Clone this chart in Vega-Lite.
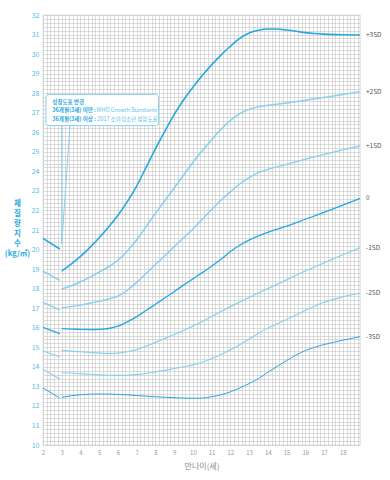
{
  "$schema": "https://vega.github.io/schema/vega-lite/v6.json",
  "width": 317,
  "height": 430,
  "autosize": {"type": "none"},
  "padding": {"left": 43, "top": 15, "right": 30, "bottom": 35},
  "background": "white",
  "config": {"view": {"stroke": "#c4c4c4", "strokeWidth": 0.6}, "font": "Noto Sans CJK KR"},
  "datasets": {
    "curves": [
      {"sd":"+3SD","seg":"W","age":2,"bmi":20.57},{"sd":"+3SD","seg":"W","age":2.9,"bmi":20.03},
      {"sd":"+2SD","seg":"W","age":2,"bmi":18.9},{"sd":"+2SD","seg":"W","age":2.9,"bmi":18.42},
      {"sd":"+1SD","seg":"W","age":2,"bmi":17.3},{"sd":"+1SD","seg":"W","age":2.9,"bmi":16.91},
      {"sd":"0","seg":"W","age":2,"bmi":16.02},{"sd":"0","seg":"W","age":2.9,"bmi":15.7},
      {"sd":"-1SD","seg":"W","age":2,"bmi":14.81},{"sd":"-1SD","seg":"W","age":2.9,"bmi":14.5},
      {"sd":"-2SD","seg":"W","age":2,"bmi":13.87},{"sd":"-2SD","seg":"W","age":2.9,"bmi":13.38},
      {"sd":"-3SD","seg":"W","age":2,"bmi":12.92},{"sd":"-3SD","seg":"W","age":2.9,"bmi":12.4},

      {"sd":"+3SD","seg":"K","age":3,"bmi":18.9},{"sd":"+3SD","seg":"K","age":3.5,"bmi":19.25},{"sd":"+3SD","seg":"K","age":4,"bmi":19.65},{"sd":"+3SD","seg":"K","age":4.5,"bmi":20.1},{"sd":"+3SD","seg":"K","age":5,"bmi":20.6},{"sd":"+3SD","seg":"K","age":5.5,"bmi":21.15},{"sd":"+3SD","seg":"K","age":6,"bmi":21.75},{"sd":"+3SD","seg":"K","age":6.5,"bmi":22.45},{"sd":"+3SD","seg":"K","age":7,"bmi":23.25},{"sd":"+3SD","seg":"K","age":7.5,"bmi":24.2},{"sd":"+3SD","seg":"K","age":8,"bmi":25.15},{"sd":"+3SD","seg":"K","age":8.5,"bmi":26.05},{"sd":"+3SD","seg":"K","age":9,"bmi":26.9},{"sd":"+3SD","seg":"K","age":9.5,"bmi":27.65},{"sd":"+3SD","seg":"K","age":10,"bmi":28.3},{"sd":"+3SD","seg":"K","age":10.5,"bmi":28.9},{"sd":"+3SD","seg":"K","age":11,"bmi":29.45},{"sd":"+3SD","seg":"K","age":11.5,"bmi":29.95},{"sd":"+3SD","seg":"K","age":12,"bmi":30.4},{"sd":"+3SD","seg":"K","age":12.5,"bmi":30.8},{"sd":"+3SD","seg":"K","age":13,"bmi":31.08},{"sd":"+3SD","seg":"K","age":13.5,"bmi":31.22},{"sd":"+3SD","seg":"K","age":14,"bmi":31.28},{"sd":"+3SD","seg":"K","age":14.5,"bmi":31.28},{"sd":"+3SD","seg":"K","age":15,"bmi":31.23},{"sd":"+3SD","seg":"K","age":15.5,"bmi":31.17},{"sd":"+3SD","seg":"K","age":16,"bmi":31.1},{"sd":"+3SD","seg":"K","age":16.5,"bmi":31.05},{"sd":"+3SD","seg":"K","age":17,"bmi":31.02},{"sd":"+3SD","seg":"K","age":18,"bmi":30.99},{"sd":"+3SD","seg":"K","age":18.92,"bmi":30.98},

      {"sd":"+2SD","seg":"K","age":3,"bmi":17.98},{"sd":"+2SD","seg":"K","age":3.5,"bmi":18.15},{"sd":"+2SD","seg":"K","age":4,"bmi":18.35},{"sd":"+2SD","seg":"K","age":4.5,"bmi":18.58},{"sd":"+2SD","seg":"K","age":5,"bmi":18.85},{"sd":"+2SD","seg":"K","age":5.5,"bmi":19.12},{"sd":"+2SD","seg":"K","age":6,"bmi":19.45},{"sd":"+2SD","seg":"K","age":6.5,"bmi":19.92},{"sd":"+2SD","seg":"K","age":7,"bmi":20.5},{"sd":"+2SD","seg":"K","age":7.5,"bmi":21.17},{"sd":"+2SD","seg":"K","age":8,"bmi":21.85},{"sd":"+2SD","seg":"K","age":8.5,"bmi":22.5},{"sd":"+2SD","seg":"K","age":9,"bmi":23.15},{"sd":"+2SD","seg":"K","age":9.5,"bmi":23.8},{"sd":"+2SD","seg":"K","age":10,"bmi":24.45},{"sd":"+2SD","seg":"K","age":10.5,"bmi":25.05},{"sd":"+2SD","seg":"K","age":11,"bmi":25.62},{"sd":"+2SD","seg":"K","age":11.5,"bmi":26.15},{"sd":"+2SD","seg":"K","age":12,"bmi":26.6},{"sd":"+2SD","seg":"K","age":12.5,"bmi":26.95},{"sd":"+2SD","seg":"K","age":13,"bmi":27.17},{"sd":"+2SD","seg":"K","age":13.5,"bmi":27.3},{"sd":"+2SD","seg":"K","age":14,"bmi":27.38},{"sd":"+2SD","seg":"K","age":14.5,"bmi":27.44},{"sd":"+2SD","seg":"K","age":15,"bmi":27.5},{"sd":"+2SD","seg":"K","age":16,"bmi":27.64},{"sd":"+2SD","seg":"K","age":17,"bmi":27.78},{"sd":"+2SD","seg":"K","age":18,"bmi":27.93},{"sd":"+2SD","seg":"K","age":18.92,"bmi":28.08},

      {"sd":"+1SD","seg":"K","age":3,"bmi":17.02},{"sd":"+1SD","seg":"K","age":3.5,"bmi":17.08},{"sd":"+1SD","seg":"K","age":4,"bmi":17.16},{"sd":"+1SD","seg":"K","age":4.5,"bmi":17.25},{"sd":"+1SD","seg":"K","age":5,"bmi":17.35},{"sd":"+1SD","seg":"K","age":5.5,"bmi":17.47},{"sd":"+1SD","seg":"K","age":6,"bmi":17.62},{"sd":"+1SD","seg":"K","age":6.5,"bmi":17.92},{"sd":"+1SD","seg":"K","age":7,"bmi":18.32},{"sd":"+1SD","seg":"K","age":7.5,"bmi":18.77},{"sd":"+1SD","seg":"K","age":8,"bmi":19.23},{"sd":"+1SD","seg":"K","age":8.5,"bmi":19.68},{"sd":"+1SD","seg":"K","age":9,"bmi":20.14},{"sd":"+1SD","seg":"K","age":9.5,"bmi":20.6},{"sd":"+1SD","seg":"K","age":10,"bmi":21.05},{"sd":"+1SD","seg":"K","age":10.5,"bmi":21.55},{"sd":"+1SD","seg":"K","age":11,"bmi":22.05},{"sd":"+1SD","seg":"K","age":11.5,"bmi":22.52},{"sd":"+1SD","seg":"K","age":12,"bmi":22.95},{"sd":"+1SD","seg":"K","age":12.5,"bmi":23.35},{"sd":"+1SD","seg":"K","age":13,"bmi":23.68},{"sd":"+1SD","seg":"K","age":13.5,"bmi":23.93},{"sd":"+1SD","seg":"K","age":14,"bmi":24.1},{"sd":"+1SD","seg":"K","age":14.5,"bmi":24.23},{"sd":"+1SD","seg":"K","age":15,"bmi":24.36},{"sd":"+1SD","seg":"K","age":16,"bmi":24.62},{"sd":"+1SD","seg":"K","age":17,"bmi":24.87},{"sd":"+1SD","seg":"K","age":18,"bmi":25.1},{"sd":"+1SD","seg":"K","age":18.92,"bmi":25.3},

      {"sd":"0","seg":"K","age":3,"bmi":15.95},{"sd":"0","seg":"K","age":3.5,"bmi":15.93},{"sd":"0","seg":"K","age":4,"bmi":15.92},{"sd":"0","seg":"K","age":4.5,"bmi":15.91},{"sd":"0","seg":"K","age":5,"bmi":15.92},{"sd":"0","seg":"K","age":5.5,"bmi":15.96},{"sd":"0","seg":"K","age":6,"bmi":16.08},{"sd":"0","seg":"K","age":6.5,"bmi":16.3},{"sd":"0","seg":"K","age":7,"bmi":16.57},{"sd":"0","seg":"K","age":7.5,"bmi":16.88},{"sd":"0","seg":"K","age":8,"bmi":17.2},{"sd":"0","seg":"K","age":8.5,"bmi":17.52},{"sd":"0","seg":"K","age":9,"bmi":17.85},{"sd":"0","seg":"K","age":9.5,"bmi":18.18},{"sd":"0","seg":"K","age":10,"bmi":18.5},{"sd":"0","seg":"K","age":10.5,"bmi":18.82},{"sd":"0","seg":"K","age":11,"bmi":19.15},{"sd":"0","seg":"K","age":11.5,"bmi":19.5},{"sd":"0","seg":"K","age":12,"bmi":19.9},{"sd":"0","seg":"K","age":12.5,"bmi":20.22},{"sd":"0","seg":"K","age":13,"bmi":20.48},{"sd":"0","seg":"K","age":13.5,"bmi":20.7},{"sd":"0","seg":"K","age":14,"bmi":20.88},{"sd":"0","seg":"K","age":15,"bmi":21.2},{"sd":"0","seg":"K","age":16,"bmi":21.55},{"sd":"0","seg":"K","age":17,"bmi":21.9},{"sd":"0","seg":"K","age":18,"bmi":22.27},{"sd":"0","seg":"K","age":18.92,"bmi":22.62},

      {"sd":"-1SD","seg":"K","age":3,"bmi":14.84},{"sd":"-1SD","seg":"K","age":3.5,"bmi":14.8},{"sd":"-1SD","seg":"K","age":4,"bmi":14.77},{"sd":"-1SD","seg":"K","age":4.5,"bmi":14.74},{"sd":"-1SD","seg":"K","age":5,"bmi":14.71},{"sd":"-1SD","seg":"K","age":5.5,"bmi":14.69},{"sd":"-1SD","seg":"K","age":6,"bmi":14.7},{"sd":"-1SD","seg":"K","age":6.5,"bmi":14.77},{"sd":"-1SD","seg":"K","age":7,"bmi":14.88},{"sd":"-1SD","seg":"K","age":7.5,"bmi":15.05},{"sd":"-1SD","seg":"K","age":8,"bmi":15.25},{"sd":"-1SD","seg":"K","age":8.5,"bmi":15.45},{"sd":"-1SD","seg":"K","age":9,"bmi":15.65},{"sd":"-1SD","seg":"K","age":9.5,"bmi":15.86},{"sd":"-1SD","seg":"K","age":10,"bmi":16.08},{"sd":"-1SD","seg":"K","age":10.5,"bmi":16.32},{"sd":"-1SD","seg":"K","age":11,"bmi":16.57},{"sd":"-1SD","seg":"K","age":11.5,"bmi":16.83},{"sd":"-1SD","seg":"K","age":12,"bmi":17.08},{"sd":"-1SD","seg":"K","age":12.5,"bmi":17.32},{"sd":"-1SD","seg":"K","age":13,"bmi":17.55},{"sd":"-1SD","seg":"K","age":14,"bmi":18.0},{"sd":"-1SD","seg":"K","age":15,"bmi":18.45},{"sd":"-1SD","seg":"K","age":16,"bmi":18.9},{"sd":"-1SD","seg":"K","age":17,"bmi":19.32},{"sd":"-1SD","seg":"K","age":18,"bmi":19.73},{"sd":"-1SD","seg":"K","age":18.92,"bmi":20.09},

      {"sd":"-2SD","seg":"K","age":3,"bmi":13.7},{"sd":"-2SD","seg":"K","age":3.5,"bmi":13.68},{"sd":"-2SD","seg":"K","age":4,"bmi":13.65},{"sd":"-2SD","seg":"K","age":4.5,"bmi":13.62},{"sd":"-2SD","seg":"K","age":5,"bmi":13.59},{"sd":"-2SD","seg":"K","age":5.5,"bmi":13.57},{"sd":"-2SD","seg":"K","age":6,"bmi":13.56},{"sd":"-2SD","seg":"K","age":6.5,"bmi":13.57},{"sd":"-2SD","seg":"K","age":7,"bmi":13.6},{"sd":"-2SD","seg":"K","age":7.5,"bmi":13.66},{"sd":"-2SD","seg":"K","age":8,"bmi":13.74},{"sd":"-2SD","seg":"K","age":8.5,"bmi":13.82},{"sd":"-2SD","seg":"K","age":9,"bmi":13.91},{"sd":"-2SD","seg":"K","age":9.5,"bmi":14.0},{"sd":"-2SD","seg":"K","age":10,"bmi":14.1},{"sd":"-2SD","seg":"K","age":10.5,"bmi":14.23},{"sd":"-2SD","seg":"K","age":11,"bmi":14.42},{"sd":"-2SD","seg":"K","age":11.5,"bmi":14.63},{"sd":"-2SD","seg":"K","age":12,"bmi":14.87},{"sd":"-2SD","seg":"K","age":12.5,"bmi":15.13},{"sd":"-2SD","seg":"K","age":13,"bmi":15.42},{"sd":"-2SD","seg":"K","age":13.5,"bmi":15.72},{"sd":"-2SD","seg":"K","age":14,"bmi":15.98},{"sd":"-2SD","seg":"K","age":14.5,"bmi":16.2},{"sd":"-2SD","seg":"K","age":15,"bmi":16.42},{"sd":"-2SD","seg":"K","age":16,"bmi":16.88},{"sd":"-2SD","seg":"K","age":17,"bmi":17.3},{"sd":"-2SD","seg":"K","age":17.5,"bmi":17.45},{"sd":"-2SD","seg":"K","age":18,"bmi":17.58},{"sd":"-2SD","seg":"K","age":18.92,"bmi":17.76},

      {"sd":"-3SD","seg":"K","age":3,"bmi":12.44},{"sd":"-3SD","seg":"K","age":3.5,"bmi":12.52},{"sd":"-3SD","seg":"K","age":4,"bmi":12.57},{"sd":"-3SD","seg":"K","age":4.5,"bmi":12.6},{"sd":"-3SD","seg":"K","age":5,"bmi":12.61},{"sd":"-3SD","seg":"K","age":6,"bmi":12.59},{"sd":"-3SD","seg":"K","age":7,"bmi":12.53},{"sd":"-3SD","seg":"K","age":8,"bmi":12.47},{"sd":"-3SD","seg":"K","age":9,"bmi":12.42},{"sd":"-3SD","seg":"K","age":10,"bmi":12.39},{"sd":"-3SD","seg":"K","age":10.5,"bmi":12.4},{"sd":"-3SD","seg":"K","age":11,"bmi":12.47},{"sd":"-3SD","seg":"K","age":11.5,"bmi":12.57},{"sd":"-3SD","seg":"K","age":12,"bmi":12.72},{"sd":"-3SD","seg":"K","age":12.5,"bmi":12.92},{"sd":"-3SD","seg":"K","age":13,"bmi":13.14},{"sd":"-3SD","seg":"K","age":13.5,"bmi":13.4},{"sd":"-3SD","seg":"K","age":14,"bmi":13.72},{"sd":"-3SD","seg":"K","age":14.5,"bmi":14.02},{"sd":"-3SD","seg":"K","age":15,"bmi":14.32},{"sd":"-3SD","seg":"K","age":15.5,"bmi":14.6},{"sd":"-3SD","seg":"K","age":16,"bmi":14.83},{"sd":"-3SD","seg":"K","age":16.5,"bmi":15.0},{"sd":"-3SD","seg":"K","age":17,"bmi":15.14},{"sd":"-3SD","seg":"K","age":17.5,"bmi":15.25},{"sd":"-3SD","seg":"K","age":18,"bmi":15.36},{"sd":"-3SD","seg":"K","age":18.92,"bmi":15.54}
    ],
    "box": [{"age": 2.16, "age2": 8.16, "bmi": 26.34, "bmi2": 27.94}],
    "tail": [
      {"o": 1, "age": 3.44, "bmi": 26.36},
      {"o": 2, "age": 3.0, "bmi": 20.28},
      {"o": 3, "age": 3.0, "bmi": 26.36}
    ],
    "noteBold": [
      {"age": 2.5, "bmi": 27.55, "t": "성장도표 변경"},
      {"age": 2.5, "bmi": 27.12, "t": "36개월(3세) 미만 :"},
      {"age": 2.5, "bmi": 26.7, "t": "36개월(3세) 이상 :"}
    ],
    "noteLight": [
      {"age": 4.86, "bmi": 27.12, "t": "WHO Growth Standards"},
      {"age": 4.9, "bmi": 26.7, "t": "2017 소아청소년 성장도표"}
    ]
  },
  "encoding": {
    "x": {
      "field": "age", "type": "quantitative",
      "scale": {"domain": [2, 18.92], "nice": false, "zero": false},
      "axis": {
        "tickCount": 85, "grid": true, "gridColor": "#c4c4c4", "gridWidth": 0.6,
        "ticks": false, "domain": false, "labelFlush": false, "labelOverlap": false,
        "labelExpr": "datum.value % 1 == 0 ? format(datum.value, 'd') : ''",
        "labelColor": "#9a9a9a", "labelFontSize": 6, "labelPadding": 4,
        "title": "만나이(세)", "titleColor": "#8a8a8a", "titleFontSize": 8,
        "titleFontWeight": "normal", "titlePadding": 7
      }
    },
    "y": {
      "field": "bmi", "type": "quantitative",
      "scale": {"domain": [10, 32], "nice": false, "zero": false},
      "axis": {
        "tickCount": 110, "grid": true, "gridColor": "#c4c4c4", "gridWidth": 0.6,
        "ticks": false, "domain": false, "labelFlush": false, "labelOverlap": false,
        "labelExpr": "datum.value % 1 == 0 ? format(datum.value, 'd') : ''",
        "labelColor": "#4fbde9", "labelFontSize": 7, "labelPadding": 4,
        "title": ["체", "질", "량", "지", "수", "(kg/㎡)"],
        "titleAngle": 0, "titleX": -26, "titleY": 184, "titleBaseline": "top",
        "titleAlign": "center", "titleColor": "#29aae1", "titleFontSize": 7.5,
        "titleFontWeight": "bold", "titleLineHeight": 10
      }
    }
  },
  "layer": [
    {
      "data": {"name": "curves"},
      "mark": {"type": "line", "interpolate": "monotone"},
      "encoding": {
        "color": {
          "field": "sd", "type": "nominal", "legend": null,
          "scale": {"domain": ["+3SD", "+2SD", "+1SD", "0", "-1SD", "-2SD", "-3SD"],
                    "range": ["#25a9e0", "#86d0f0", "#86d0f0", "#25a9e0", "#86d0f0", "#86d0f0", "#25a9e0"]}
        },
        "strokeWidth": {
          "field": "sd", "type": "nominal", "legend": null,
          "scale": {"domain": ["+3SD", "+2SD", "+1SD", "0", "-1SD", "-2SD", "-3SD"],
                    "range": [1.6, 1, 1, 1.6, 1, 1, 1.6]}
        },
        "detail": {"field": "seg"}
      }
    },
    {
      "data": {"name": "box"},
      "mark": {"type": "rect", "fill": "white", "stroke": "#86d0f0", "strokeWidth": 1, "cornerRadius": 3},
      "encoding": {
        "x2": {"field": "age2"},
        "y2": {"field": "bmi2"}
      }
    },
    {
      "data": {"name": "tail"},
      "mark": {"type": "line", "stroke": "#86d0f0", "strokeWidth": 1},
      "encoding": {
        "order": {"field": "o"}
      }
    },
    {
      "data": {"name": "noteBold"},
      "mark": {"type": "text", "align": "left", "baseline": "middle", "fontSize": 5.5, "fontWeight": "bold", "color": "#29aae1"},
      "encoding": {
        "text": {"field": "t"}
      }
    },
    {
      "data": {"name": "noteLight"},
      "mark": {"type": "text", "align": "left", "baseline": "middle", "fontSize": 5.5, "color": "#62c3ec"},
      "encoding": {
        "text": {"field": "t"}
      }
    },
    {
      "data": {"name": "curves"},
      "transform": [{"filter": "datum.seg == 'K' && datum.age == 18.92"}],
      "mark": {"type": "text", "align": "left", "baseline": "middle", "dx": 6, "fontSize": 6.5, "color": "#555555"},
      "encoding": {
        "text": {"field": "sd"}
      }
    }
  ]
}
